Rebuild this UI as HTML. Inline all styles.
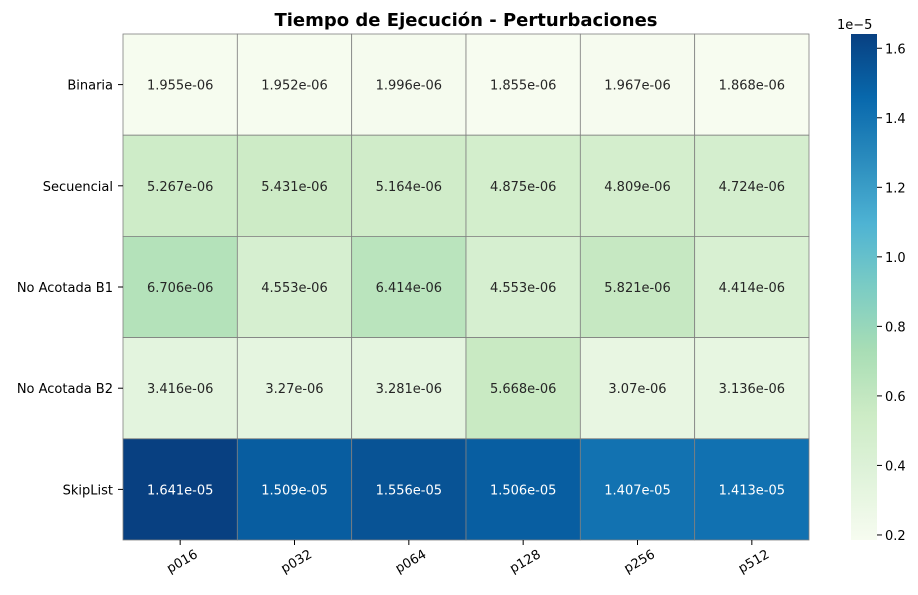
<!DOCTYPE html>
<html><head><meta charset="utf-8"><style>
body{margin:0;background:#fff;font-family:"Liberation Sans","DejaVu Sans",sans-serif}
</style></head><body>
<svg id="s" width="918" height="590" xmlns="http://www.w3.org/2000/svg" font-family="DejaVu Sans, Liberation Sans, sans-serif">
<defs><linearGradient id="g" x1="0" y1="1" x2="0" y2="0" id2="g"></linearGradient></defs>
<text x="466" y="26" text-anchor="middle" font-size="18" font-weight="bold" fill="#000">Tiempo de Ejecución - Perturbaciones</text>
</svg>
<script>
const cs=["f7fcf0","e0f3db","ccebc5","a8ddb5","7bccc4","4eb3d3","2b8cbe","0868ac","084081"].map(h=>[0,2,4].map(i=>parseInt(h.substr(i,2),16)));
function col(t){t=Math.max(0,Math.min(1,t));const p=t*8,i=Math.min(7,Math.floor(p)),f=p-i;const c=cs[i].map((v,k)=>Math.round(v+(cs[i+1][k]-v)*f));return `rgb(${c})`;}
const rows=["Binaria","Secuencial","No Acotada B1","No Acotada B2","SkipList"];
const cols=["p016","p032","p064","p128","p256","p512"];
const d=[["1.955e-06","1.952e-06","1.996e-06","1.855e-06","1.967e-06","1.868e-06"],
["5.267e-06","5.431e-06","5.164e-06","4.875e-06","4.809e-06","4.724e-06"],
["6.706e-06","4.553e-06","6.414e-06","4.553e-06","5.821e-06","4.414e-06"],
["3.416e-06","3.27e-06","3.281e-06","5.668e-06","3.07e-06","3.136e-06"],
["1.641e-05","1.509e-05","1.556e-05","1.506e-05","1.407e-05","1.413e-05"]];
const vmin=1.855e-6,vmax=1.641e-5;
const s=document.getElementById('s');let h='';
const x0=123,y0=34,cw=(809-123)/6,rh=(540-34)/5;
d.forEach((r,i)=>r.forEach((v,j)=>{const t=(parseFloat(v)-vmin)/(vmax-vmin);
h+=`<rect x="${x0+j*cw}" y="${y0+i*rh}" width="${cw}" height="${rh}" fill="${col(t)}" stroke="#808080" stroke-width="0.8"/>`;
h+=`<text x="${x0+(j+.5)*cw}" y="${y0+(i+.5)*rh+5}" text-anchor="middle" font-size="13" fill="${t>0.6?'#fff':'#262626'}">${v}</text>`;}));
rows.forEach((r,i)=>{const y=y0+(i+.5)*rh;h+=`<line x1="118" x2="123" y1="${y}" y2="${y}" stroke="#000"/><text x="113" y="${y+5}" text-anchor="end" font-size="13">${r}</text>`;});
cols.forEach((c,j)=>{const x=x0+(j+.5)*cw;h+=`<line x1="${x}" x2="${x}" y1="540" y2="545" stroke="#000"/><text transform="translate(${x+4},${565}) rotate(-30)" text-anchor="middle" font-size="13">${c}</text>`;});
// colorbar
let st='';for(let k=0;k<=40;k++){st+=`<stop offset="${k/40}" stop-color="${col(k/40)}"/>`;}
h+=`<linearGradient id="cb" x1="0" y1="1" x2="0" y2="0">${st}</linearGradient><rect x="851" y="34" width="26" height="506" fill="url(#cb)"/>`;
const pp=506/(vmax-vmin);
for(let k=2;k<=16;k+=2){const v=k/10*1e-5,y=540-(v-vmin)*pp;h+=`<line x1="877" x2="882" y1="${y}" y2="${y}" stroke="#000"/><text x="885" y="${y+5}" font-size="13">${(k/10).toFixed(1)}</text>`;}
h+=`<text x="837" y="29" font-size="13">1e−5</text>`;
s.insertAdjacentHTML('beforeend',h);
</script>
</body></html>
